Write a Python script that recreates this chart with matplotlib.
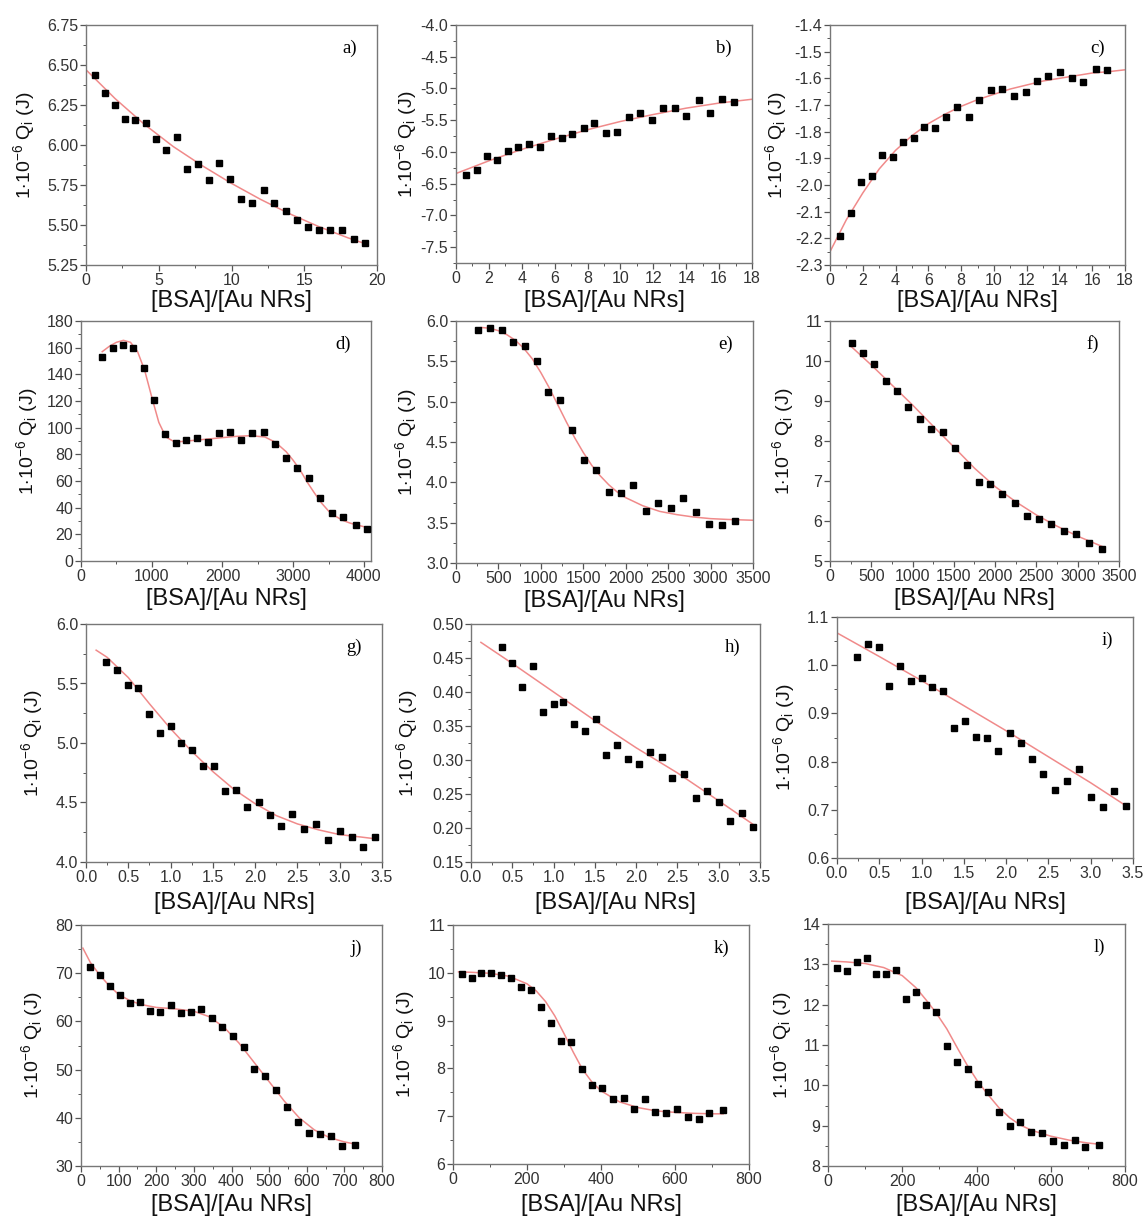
import matplotlib
matplotlib.use('Agg')
import matplotlib.pyplot as plt
from matplotlib.ticker import MultipleLocator, FormatStrFormatter

plt.rcParams['font.family'] = ['Liberation Sans', 'DejaVu Sans']
plt.rcParams['mathtext.fontset'] = 'custom'
plt.rcParams['mathtext.rm'] = 'Liberation Sans'
plt.rcParams['mathtext.it'] = 'Liberation Sans'
plt.rcParams['axes.unicode_minus'] = False

# ---- data ----
a_x = [0.62, 1.31, 2.0, 2.68, 3.39, 4.1, 4.82, 5.53, 6.26, 6.97, 7.71, 8.44, 9.15, 9.9,
       10.64, 11.42, 12.2, 12.94, 13.72, 14.5, 15.25, 16.03, 16.8, 17.6, 18.4, 19.2]
a_y = [6.44, 6.327, 6.25, 6.165, 6.155, 6.14, 6.04, 5.97, 6.05, 5.85, 5.88, 5.78, 5.89, 5.79,
       5.66, 5.64, 5.72, 5.635, 5.585, 5.53, 5.49, 5.47, 5.467, 5.467, 5.41, 5.39]
a_fit_x = [0, 2, 4, 6, 8, 10, 12, 14, 16, 18, 19.3]
a_fit_y = [6.47, 6.29, 6.13, 5.99, 5.87, 5.76, 5.66, 5.57, 5.49, 5.42, 5.38]

b_x = [0.61, 1.26, 1.87, 2.52, 3.14, 3.79, 4.44, 5.11, 5.78, 6.43, 7.08, 7.77, 8.42,
       9.13, 9.82, 10.49, 11.2, 11.9, 12.6, 13.3, 14.0, 14.75, 15.45, 16.17, 16.9]
b_y = [-6.36, -6.28, -6.07, -6.12, -5.99, -5.93, -5.87, -5.92, -5.75, -5.78, -5.72, -5.62, -5.54,
       -5.70, -5.68, -5.45, -5.39, -5.50, -5.31, -5.31, -5.44, -5.18, -5.39, -5.16, -5.21]
b_fit_x = [0, 2, 4, 6, 8, 10, 12, 14, 16, 18]
b_fit_y = [-6.34, -6.14, -5.96, -5.80, -5.65, -5.52, -5.41, -5.31, -5.23, -5.17]

c_x = [0.61, 1.26, 1.89, 2.54, 3.19, 3.82, 4.47, 5.12, 5.75, 6.42, 7.09, 7.76, 8.46,
       9.1, 9.8, 10.5, 11.2, 11.93, 12.6, 13.3, 14.02, 14.74, 15.45, 16.2, 16.93]
c_y = [-2.19, -2.106, -1.99, -1.965, -1.889, -1.895, -1.839, -1.825, -1.784, -1.785, -1.745,
       -1.707, -1.745, -1.681, -1.645, -1.64, -1.665, -1.651, -1.61, -1.592, -1.575, -1.599,
       -1.612, -1.565, -1.567]
c_fit_x = [0, 1, 2, 3, 4, 5, 6, 7, 8, 9, 10, 11, 12, 13, 14, 15, 16, 17, 18]
c_fit_y = [-2.25, -2.13, -2.03, -1.94, -1.87, -1.815, -1.77, -1.735, -1.705, -1.68, -1.66,
           -1.64, -1.625, -1.61, -1.60, -1.59, -1.58, -1.575, -1.568]

d_x = [302, 449, 595, 741, 892, 1034, 1185, 1341, 1487, 1638, 1789, 1950, 2110, 2262, 2422,
       2583, 2738, 2899, 3059, 3225, 3381, 3546, 3711, 3881, 4046]
d_y = [153, 160, 162, 160, 145, 121, 95.5, 88.5, 90.5, 92.5, 89.5, 96, 97, 90.5, 96, 97,
       87.5, 77, 70, 62, 47, 36, 33, 27, 24]
d_fit_x = [300, 400, 500, 600, 700, 800, 900, 1000, 1100, 1200, 1300, 1400, 1600, 1800, 2000,
           2200, 2400, 2600, 2750, 2900, 3000, 3100, 3200, 3300, 3400, 3500, 3600, 3700, 3800,
           3900, 4060]
d_fit_y = [157, 161, 164, 165.5, 164, 157, 143, 123, 104, 93, 90, 89.5, 90.5, 91.5, 92.5,
           93.5, 94, 93, 89, 82, 75.5, 68, 59, 51, 43.5, 37.5, 33.5, 30.5, 28.5, 27, 25]

ef_x = [265, 400, 537, 675, 812, 950, 1090, 1228, 1365, 1510, 1655, 1800, 1942, 2087, 2236,
        2385, 2534, 2680, 2829, 2982, 3135, 3290]
e_y = [5.888, 5.909, 5.888, 5.743, 5.690, 5.508, 5.115, 5.024, 4.651, 4.279, 4.150, 3.886,
       3.869, 3.964, 3.646, 3.741, 3.683, 3.803, 3.633, 3.480, 3.472, 3.522]
e_fit_x = [300, 400, 500, 600, 700, 800, 900, 1000, 1100, 1200, 1300, 1400, 1500, 1600, 1700,
           1800, 1900, 2000, 2200, 2400, 2600, 2800, 3000, 3200, 3500]
e_fit_y = [5.92, 5.91, 5.88, 5.83, 5.76, 5.66, 5.53, 5.36, 5.17, 4.96, 4.75, 4.55, 4.37, 4.21,
           4.08, 3.97, 3.88, 3.81, 3.71, 3.64, 3.60, 3.57, 3.55, 3.54, 3.53]
f_y = [10.46, 10.2, 9.92, 9.51, 9.24, 8.85, 8.54, 8.30, 8.23, 7.83, 7.40, 6.97, 6.93, 6.68,
       6.44, 6.13, 6.04, 5.93, 5.76, 5.68, 5.45, 5.31]
f_fit_x = [263, 500, 750, 1000, 1250, 1500, 1750, 2000, 2250, 2500, 2750, 3000, 3300]
f_fit_y = [10.35, 9.90, 9.40, 8.90, 8.37, 7.85, 7.32, 6.86, 6.48, 6.15, 5.87, 5.62, 5.36]

gi_x = [0.24, 0.37, 0.50, 0.62, 0.75, 0.87, 1.00, 1.12, 1.25, 1.38, 1.51, 1.64, 1.77, 1.90,
        2.04, 2.17, 2.31, 2.44, 2.58, 2.72, 2.86, 3.00, 3.14, 3.28, 3.42]
g_y = [5.684, 5.611, 5.485, 5.466, 5.242, 5.088, 5.147, 5.001, 4.940, 4.806, 4.806, 4.596,
       4.607, 4.459, 4.506, 4.397, 4.305, 4.403, 4.277, 4.319, 4.185, 4.257, 4.213, 4.129, 4.207]
g_fit_x = [0.12, 0.25, 0.5, 0.75, 1.0, 1.25, 1.5, 1.75, 2.0, 2.25, 2.5, 2.75, 3.0, 3.25, 3.42]
g_fit_y = [5.78, 5.72, 5.55, 5.33, 5.12, 4.93, 4.76, 4.61, 4.49, 4.39, 4.32, 4.27, 4.23,
           4.21, 4.195]

h_x = gi_x[1:]
h_y = [0.466, 0.442, 0.4075, 0.438, 0.370, 0.382, 0.385, 0.353, 0.342, 0.360, 0.307, 0.322,
       0.302, 0.294, 0.312, 0.304, 0.273, 0.279, 0.244, 0.255, 0.238, 0.211, 0.222, 0.202]
h_fit_x = [0.12, 0.5, 1.0, 1.5, 2.0, 2.5, 3.0, 3.42]
h_fit_y = [0.473, 0.442, 0.400, 0.358, 0.318, 0.281, 0.240, 0.205]

i_y = [1.016, 1.043, 1.037, 0.956, 0.998, 0.967, 0.973, 0.954, 0.947, 0.870, 0.885, 0.852,
       0.848, 0.821, 0.859, 0.839, 0.805, 0.774, 0.742, 0.760, 0.785, 0.727, 0.705, 0.740, 0.707]
i_fit_x = [0, 0.5, 1.0, 1.5, 2.0, 2.5, 3.0, 3.42]
i_fit_y = [1.067, 1.018, 0.968, 0.916, 0.864, 0.810, 0.756, 0.708]

jkl_x = [25, 51, 77, 104, 130, 157, 183, 210, 238, 265, 292, 320, 348, 376, 404, 432, 461,
         490, 518, 547, 577, 606, 635, 664, 693, 729]
j_y = [71.3, 69.6, 67.3, 65.4, 63.9, 64.1, 62.2, 62.0, 63.3, 61.8, 61.9, 62.5, 60.7, 58.8,
       57.0, 54.6, 50.2, 48.6, 45.8, 42.3, 39.1, 36.9, 36.7, 36.3, 34.2, 34.3]
j_fit_x = [5, 25, 50, 75, 100, 130, 160, 200, 250, 300, 340, 380, 420, 460, 500, 540, 580,
           620, 660, 700, 725]
j_fit_y = [75.2, 72.2, 69.6, 67.4, 65.6, 64.3, 63.5, 62.9, 62.6, 62.1, 61.0, 58.8, 55.5,
           51.5, 47.5, 43.5, 40.0, 37.5, 35.9, 35.0, 34.6]

k_y = [9.98, 9.89, 9.99, 10.0, 9.95, 9.89, 9.71, 9.64, 9.29, 8.96, 8.58, 8.56, 7.98, 7.66,
       7.59, 7.36, 7.39, 7.15, 7.36, 7.09, 7.07, 7.16, 6.98, 6.94, 7.07, 7.13]
k_fit_x = [15, 50, 100, 150, 200, 225, 250, 275, 300, 325, 350, 375, 400, 450, 500, 550, 600,
           650, 700, 730]
k_fit_y = [10.02, 10.01, 9.99, 9.93, 9.77, 9.62, 9.40, 9.10, 8.73, 8.34, 7.98, 7.72, 7.53,
           7.30, 7.18, 7.11, 7.08, 7.06, 7.05, 7.05]

l_y = [12.92, 12.83, 13.07, 13.15, 12.77, 12.77, 12.87, 12.14, 12.31, 11.98, 11.82, 10.98,
       10.58, 10.41, 10.03, 9.84, 9.35, 9.0, 9.08, 8.84, 8.83, 8.61, 8.51, 8.64, 8.47, 8.53]
l_fit_x = [10, 50, 100, 150, 200, 237, 264, 291, 320, 350, 375, 403, 430, 460, 489, 517, 550,
           600, 650, 700, 730]
l_fit_y = [13.08, 13.06, 13.02, 12.92, 12.72, 12.42, 12.12, 11.8, 11.4, 10.9, 10.5, 10.1,
           9.78, 9.45, 9.2, 9.02, 8.88, 8.74, 8.64, 8.57, 8.54]

# panel: label, data, box px (left, top, right, bottom), xlim, ylim, x major/minor,
# y major/minor, x fmt, y fmt, ylabel centre offset px, xlabel centre offset px
W, H = 1146, 1221
panels = [
    ('a)', a_x, a_y, a_fit_x, a_fit_y, (86, 25, 377, 265), (0, 20), (5.25, 6.75), 5, 2.5, 0.25, 0.125, '%d', '%.2f', 62, 36),
    ('b)', b_x, b_y, b_fit_x, b_fit_y, (456, 25, 752, 263), (0, 18), (-7.75, -4.0), 2, 1, 0.5, 0.25, '%d', '%.1f', 50, 38),
    ('c)', c_x, c_y, c_fit_x, c_fit_y, (830, 25, 1125, 265), (0, 18), (-2.3, -1.4), 2, 1, 0.1, 0.05, '%d', '%.1f', 54, 36),
    ('d)', d_x, d_y, d_fit_x, d_fit_y, (81, 321, 371, 561), (0, 4100), (0, 180), 1000, 500, 20, 10, '%d', '%d', 54, 38),
    ('e)', ef_x, e_y, e_fit_x, e_fit_y, (456, 321, 753, 563), (0, 3500), (3.0, 6.0), 500, 250, 0.5, 0.25, '%d', '%.1f', 50, 38),
    ('f)', ef_x, f_y, f_fit_x, f_fit_y, (830, 321, 1119, 561), (0, 3500), (5, 11), 500, 250, 1, 0.5, '%d', '%d', 47, 38),
    ('g)', gi_x, g_y, g_fit_x, g_fit_y, (86, 624, 382, 862), (0, 3.5), (4.0, 6.0), 0.5, 0.25, 0.5, 0.25, '%.1f', '%.1f', 54, 41),
    ('h)', h_x, h_y, h_fit_x, h_fit_y, (471, 624, 760, 862), (0, 3.5), (0.15, 0.50), 0.5, 0.25, 0.05, 0.025, '%.1f', '%.2f', 64, 41),
    ('i)', gi_x, i_y, i_fit_x, i_fit_y, (837, 617, 1133, 858), (0, 3.5), (0.6, 1.1), 0.5, 0.25, 0.1, 0.05, '%.1f', '%.1f', 53, 45),
    ('j)', jkl_x, j_y, j_fit_x, j_fit_y, (81, 925, 382, 1166), (0, 800), (30, 80), 100, 50, 10, 5, '%d', '%d', 49, 39),
    ('k)', jkl_x, k_y, k_fit_x, k_fit_y, (453, 925, 749, 1164), (0, 800), (6, 11), 200, 100, 1, 0.5, '%d', '%d', 49, 41),
    ('l)', jkl_x, l_y, l_fit_x, l_fit_y, (828, 924, 1125, 1166), (0, 800), (8, 14), 200, 100, 1, 0.5, '%d', '%d', 47, 39),
]

fig = plt.figure(figsize=(W / 100, H / 100), dpi=100, facecolor='white')

for (lab, x, y, fx, fy, box, xl, yl, xmaj, xmin, ymaj, ymin, xfmt, yfmt, yoff, xoff) in panels:
    l, t, r, b = box
    ax = fig.add_axes([l / W, 1 - b / H, (r - l) / W, (b - t) / H])
    ax.plot(fx, fy, color='#f08a8a', lw=1.1, zorder=2)
    ax.plot(x, y, 's', color='black', ms=4.8, zorder=3)
    ax.set_xlim(*xl)
    ax.set_ylim(*yl)
    ax.xaxis.set_major_locator(MultipleLocator(xmaj))
    ax.xaxis.set_minor_locator(MultipleLocator(xmin))
    ax.yaxis.set_major_locator(MultipleLocator(ymaj))
    ax.yaxis.set_minor_locator(MultipleLocator(ymin))
    ax.xaxis.set_major_formatter(FormatStrFormatter(xfmt))
    ax.yaxis.set_major_formatter(FormatStrFormatter(yfmt))
    ax.tick_params(which='both', direction='out', top=False, right=False,
                   color='#555555', labelcolor='#333333', labelsize=11.5, pad=1.5)
    ax.tick_params(which='major', length=4, width=0.9)
    ax.tick_params(which='minor', length=2, width=0.7)
    for s in ax.spines.values():
        s.set_color('#777777')
        s.set_linewidth(1.0)
    ax.set_xlabel('[BSA]/[Au NRs]', fontsize=17, color='#111111', va='center')
    ax.set_ylabel(r'1$\cdot$10$^{-6}$ Q$_{\mathrm{i}}$ (J)', fontsize=14, color='#111111',
                  va='center')
    ax.xaxis.set_label_coords(0.5, -xoff / (b - t), transform=ax.transAxes)
    ax.yaxis.set_label_coords(-yoff / (r - l), 0.5, transform=ax.transAxes)
    ax.text(1 - 20 / (r - l), 1 - 23 / (b - t), lab, transform=ax.transAxes,
            ha='right', va='center', fontsize=13.5, family='Liberation Serif')

fig.savefig('out.png', dpi=100, facecolor='white')
